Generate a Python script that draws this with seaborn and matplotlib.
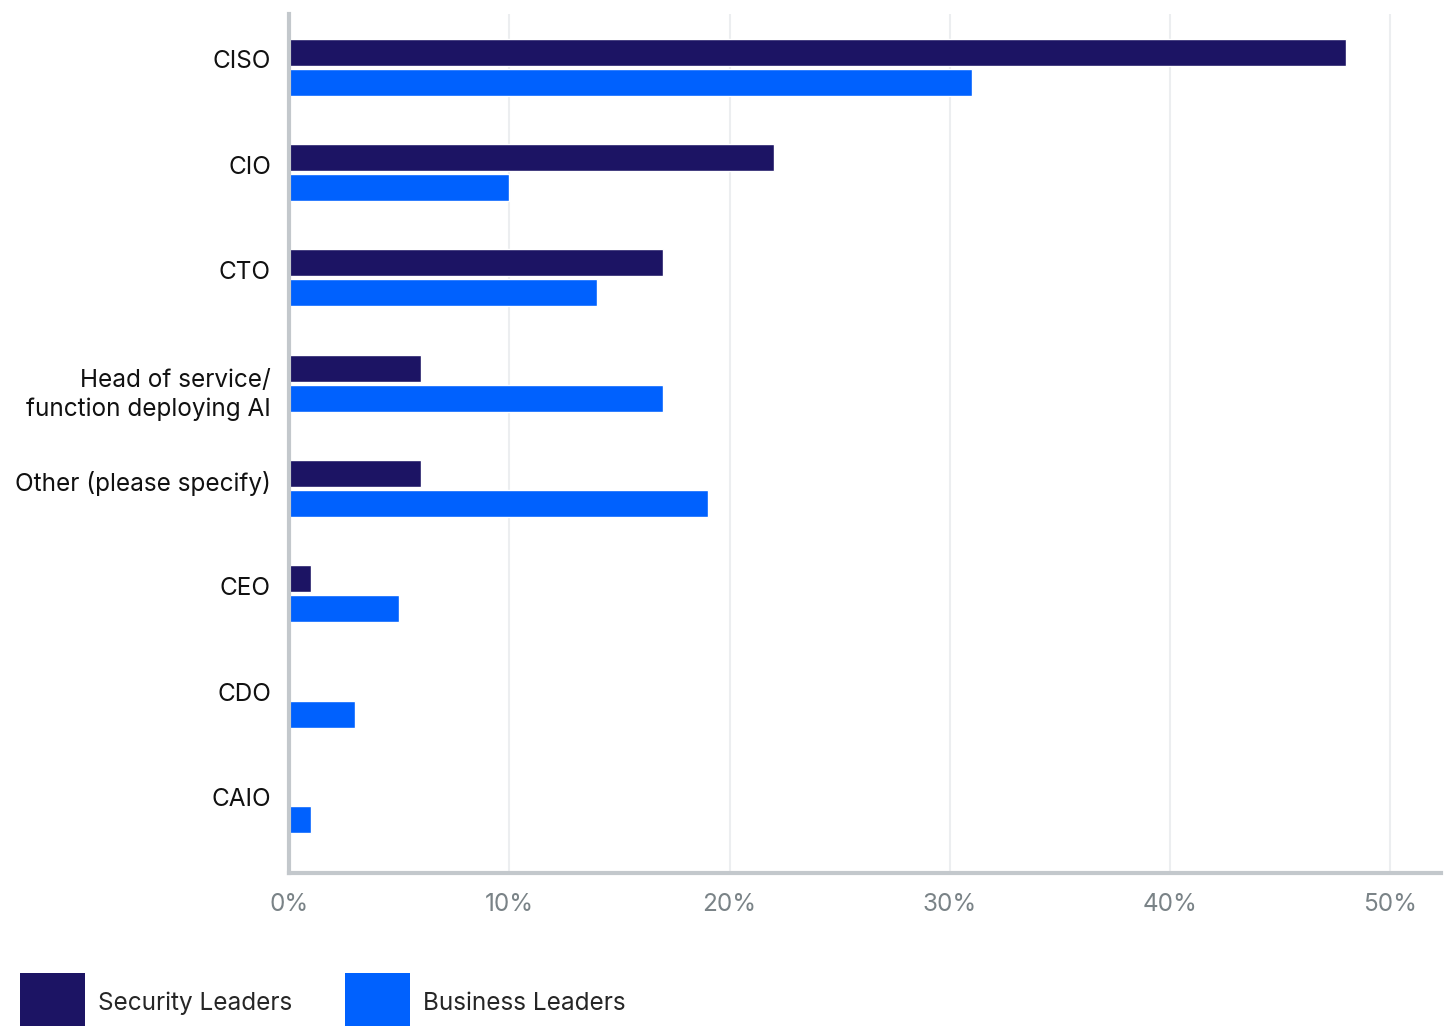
import matplotlib
matplotlib.use("Agg")
import matplotlib.pyplot as plt
import seaborn as sns
import pandas as pd
from matplotlib.patches import Patch
from matplotlib.ticker import FuncFormatter
from matplotlib.transforms import ScaledTranslation

categories = ["CISO", "CIO", "CTO", "Head of service/\nfunction deploying AI",
              "Other (please specify)", "CEO", "CDO", "CAIO"]
security_leaders = [48, 22, 17, 6, 6, 1, 0, 0]
business_leaders = [31, 10, 14, 17, 19, 5, 3, 1]
series_names = ["Security Leaders", "Business Leaders"]
colors = ["#1C1464", "#0061FE"]
x_ticks = [0, 10, 20, 30, 40, 50]

df = pd.DataFrame({
    "Role": categories * 2,
    "Value": security_leaders + business_leaders,
    "Group": [series_names[0]] * len(categories) + [series_names[1]] * len(categories),
})

sns.set_theme(style="white")
plt.rcParams["font.family"] = ["Inter", "DejaVu Sans"]

fig = plt.figure(figsize=(14.48, 10.26), dpi=100)
ax = fig.add_axes([0.1996, 0.149, 0.7956, 0.837])

sns.barplot(data=df, y="Role", x="Value", hue="Group", order=categories,
            hue_order=series_names, palette=colors, orient="h",
            width=0.57, gap=0.1, ax=ax, legend=False, saturation=1)

ax.set_xlim(0, 52.3)
ax.set_ylim(7.65, -0.5)
ax.set_xticks(x_ticks)
ax.xaxis.set_major_formatter(FuncFormatter(lambda v, p: f"{int(v)}%"))
ax.grid(axis="x", color="#ECEEF0", linewidth=1.5)
ax.set_axisbelow(True)
ax.set_xlabel("")
ax.set_ylabel("")

for s in ["top", "right"]:
    ax.spines[s].set_visible(False)
for s in ["left", "bottom"]:
    ax.spines[s].set_color("#C3C8CC")
    ax.spines[s].set_linewidth(3)

ax.tick_params(axis="x", colors="#7A8387", labelsize=17.5, length=0, pad=14)
ax.tick_params(axis="y", labelsize=17.5, length=0, pad=13, labelcolor="#111111")
for lbl in ax.get_yticklabels():
    lbl.set_horizontalalignment("right")
    lbl.set_multialignment("right")
    lbl.set_linespacing(1.32)
    dy = -4.5 if "\n" in lbl.get_text() else 5.5
    lbl.set_transform(lbl.get_transform() + ScaledTranslation(0, dy / 72, fig.dpi_scale_trans))

handles = [Patch(facecolor=c, edgecolor="none", label=n) for c, n in zip(colors, series_names)]
fig.legend(handles=handles, loc="lower left", bbox_to_anchor=(0.0138, -0.008),
           ncol=2, frameon=False, fontsize=17.5, handlelength=2.68, handleheight=3.5,
           handletextpad=0.53, columnspacing=2.15, borderpad=0, borderaxespad=0)

fig.savefig("out.png", dpi=100, facecolor="white")
